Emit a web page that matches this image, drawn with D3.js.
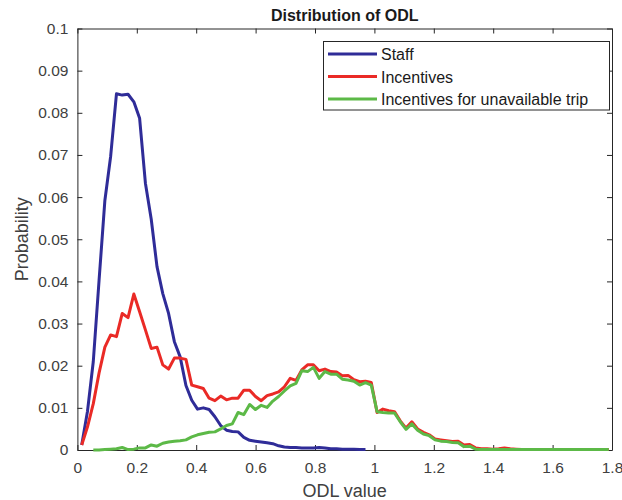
<!DOCTYPE html>
<html>
<head>
<meta charset="utf-8">
<script src="https://cdn.jsdelivr.net/npm/d3@7.9.0/dist/d3.min.js"></script>
<style>
  body { margin: 0; background: #fff; }
  svg { display: block; font-family: "Liberation Sans", Arial, Helvetica, sans-serif; }
</style>
</head>
<body>
<svg id="chart" width="622" height="500"></svg>
<script>
// bin centres of the ODL histogram
const odl = [0.0145, 0.034, 0.0535, 0.073, 0.0925, 0.112, 0.1315, 0.151, 0.1705, 0.19,
  0.2095, 0.229, 0.2485, 0.268, 0.2875, 0.307, 0.3265, 0.346, 0.3655, 0.385,
  0.4045, 0.424, 0.4435, 0.463, 0.4825, 0.502, 0.5215, 0.541, 0.5605, 0.58,
  0.5995, 0.619, 0.6385, 0.658, 0.6775, 0.697, 0.7165, 0.736, 0.7555, 0.775,
  0.7945, 0.814, 0.8335, 0.853, 0.8725, 0.892, 0.9115, 0.931, 0.9505, 0.97,
  0.9895, 1.009, 1.0285, 1.048, 1.0675, 1.087, 1.1065, 1.126, 1.1455, 1.165,
  1.1845, 1.204, 1.2235, 1.243, 1.2625, 1.282, 1.3015, 1.321, 1.3405, 1.36,
  1.3795, 1.399, 1.4185, 1.438, 1.4575, 1.477, 1.4965, 1.516, 1.5355, 1.555,
  1.5745, 1.594, 1.6135, 1.633, 1.6525, 1.672, 1.6915, 1.711, 1.7305, 1.75,
  1.7695, 1.789];

// null = bin not plotted for that series
const staff = [0.0012, 0.0092, 0.021, 0.0403, 0.0592, 0.0697, 0.0845, 0.0842, 0.0844, 0.0826,
  0.0787, 0.0633, 0.0548, 0.0435, 0.0371, 0.0324, 0.0257, 0.0221, 0.0153, 0.0118,
  0.0097, 0.0100, 0.0096, 0.0079, 0.0058, 0.0047, 0.0044, 0.0043, 0.0030, 0.0023,
  0.0021, 0.0019, 0.0017, 0.0015, 0.0010, 0.0007, 0.0006, 0.0006, 0.0005, 0.0005,
  0.0005, 0.0006, 0.0005, 0.0003, 0.0003, 0.0002, 0.0002, 0.0002, 0.0001, 0.0001];

const incentives = [0.0012, 0.0055, 0.011, 0.0183, 0.0244, 0.0273, 0.0269, 0.0324, 0.0314, 0.037,
  0.0328, 0.0285, 0.0241, 0.0244, 0.0202, 0.0192, 0.0218, 0.0218, 0.0215, 0.0154,
  0.0150, 0.0146, 0.0123, 0.0117, 0.0128, 0.0119, 0.0123, 0.0123, 0.0142, 0.0142,
  0.0127, 0.0117, 0.0129, 0.0133, 0.0138, 0.0150, 0.0170, 0.0165, 0.0190, 0.0202,
  0.0202, 0.0188, 0.0192, 0.0186, 0.0185, 0.0176, 0.0177, 0.0167, 0.0162, 0.0163,
  0.0160, 0.0089, 0.0097, 0.0093, 0.0091, 0.0069, 0.0052, 0.0067, 0.0050, 0.0042,
  0.0036, 0.0026, 0.0024, 0.0022, 0.0020, 0.0021, 0.0012, 0.0013, 0.0005, 0.0003,
  0.0003, 0.0002, 0.0003, 0.0005, 0.0003, 0.0002, 0.0001, 0.0001, 0.0001, 0.0001,
  0.0001, 0.0001, 0.0001, 0.0001, 0.0001, 0.0001, 0.0001, 0.0001, 0.0001, 0.0001,
  0.0001, 0.0001];

const unavailable = [null, null, 0, 0, 0.0001, 0.0002, 0.0003, 0.0006, 0.0001, 0.0002,
  0.0005, 0.0005, 0.0012, 0.0009, 0.0016, 0.0019, 0.0021, 0.0022, 0.0024, 0.0031,
  0.0036, 0.0039, 0.0042, 0.0043, 0.0050, 0.0058, 0.0062, 0.0089, 0.0084, 0.0108,
  0.0096, 0.0106, 0.0101, 0.0116, 0.0127, 0.0140, 0.0152, 0.0158, 0.0188, 0.0186,
  0.0196, 0.0170, 0.0186, 0.0180, 0.0180, 0.0168, 0.0166, 0.0163, 0.0154, 0.0160,
  0.0154, 0.0091, 0.0089, 0.0088, 0.0088, 0.0067, 0.0049, 0.0062, 0.0047, 0.0038,
  0.0034, 0.0024, 0.0021, 0.0020, 0.0018, 0.0017, 0.0008, 0.0009, 0.0002, 0.0001,
  0.0001, 0.0001, 0.0001, 0.0001, 0.0001, 0.0001, 0.0001, 0.0001, 0.0001, 0.0001,
  0.0001, 0.0001, 0.0001, 0.0001, 0.0001, 0.0001, 0.0001, 0.0001, 0.0001, 0.0001,
  0.0001, 0.0001];

const seriesNames = ['Staff', 'Incentives', 'Incentives for unavailable trip'];
const seriesColors = ['#2f2c98', '#ea2a26', '#5cb947'];
const xTicks = [0, 0.2, 0.4, 0.6, 0.8, 1, 1.2, 1.4, 1.6, 1.8];
const yTicks = [0, 0.01, 0.02, 0.03, 0.04, 0.05, 0.06, 0.07, 0.08, 0.09, 0.1];

const plotLeft = 77.4, plotRight = 612, plotTop = 28.5, plotBottom = 450;
const svg = d3.select('#chart');

let x = d3.scaleLinear().domain([0, 1.8]).range([plotLeft, plotRight]);
let y = d3.scaleLinear().domain([0, 0.1]).range([plotBottom, plotTop]);

const axisColor = '#262626';
const textColor = '#404040';
const fmt = (d) => d3.format('~g')(d);

// axes (MATLAB-style box with inward ticks)
svg.append('g').attr('transform', `translate(0,${plotBottom})`)
  .call(d3.axisBottom(x).tickValues(xTicks).tickFormat(fmt).tickSizeInner(-5).tickSizeOuter(0).tickPadding(12));
svg.append('g').attr('transform', `translate(${plotLeft},0)`)
  .call(d3.axisLeft(y).tickValues(yTicks).tickFormat(fmt).tickSizeInner(-5).tickSizeOuter(0).tickPadding(9));
svg.append('g').attr('transform', `translate(0,${plotTop})`)
  .call(d3.axisTop(x).tickValues(xTicks).tickFormat('').tickSizeInner(-5).tickSizeOuter(0));
svg.append('g').attr('transform', `translate(${plotRight},0)`)
  .call(d3.axisRight(y).tickValues(yTicks).tickFormat('').tickSizeInner(-5).tickSizeOuter(0));

svg.selectAll('.domain, .tick line').attr('stroke', axisColor).attr('stroke-width', 1);
svg.selectAll('.tick text').attr('fill', textColor).style('font-size', '15.5px');

// series lines
const series = [staff, incentives, unavailable];
let line = d3.line()
  .defined((d) => d != null)
  .x((d, i) => x(odl[i]))
  .y((d) => y(d));

series.forEach((vals, idx) => {
  svg.append('path')
    .attr('d', line(vals))
    .attr('fill', 'none')
    .attr('stroke', seriesColors[idx])
    .attr('stroke-width', 3)
    .attr('stroke-linejoin', 'round');
});

// title and labels
svg.append('text').attr('x', (plotLeft + plotRight) / 2).attr('y', 20.5)
  .attr('text-anchor', 'middle').attr('font-weight', 'bold')
  .style('font-size', '16px').attr('fill', '#1a1a1a')
  .text('Distribution of ODL');
svg.append('text').attr('x', (plotLeft + plotRight) / 2).attr('y', 497)
  .attr('text-anchor', 'middle').style('font-size', '18px').attr('fill', textColor)
  .text('ODL value');
svg.append('text')
  .attr('transform', `translate(28,${(plotTop + plotBottom) / 2}) rotate(-90)`)
  .attr('text-anchor', 'middle').style('font-size', '18px').attr('fill', textColor)
  .text('Probability');

// legend
let legend = svg.append('g');
legend.append('rect')
  .attr('x', 323.5).attr('y', 41.5).attr('width', 286).attr('height', 68.5)
  .attr('fill', '#fff').attr('stroke', '#262626').attr('stroke-width', 1);
seriesNames.forEach((name, idx) => {
  let ly = 54 + idx * 22.5;
  legend.append('line')
    .attr('x1', 328).attr('x2', 377).attr('y1', ly).attr('y2', ly)
    .attr('stroke', seriesColors[idx]).attr('stroke-width', 3);
  legend.append('text')
    .attr('x', 381).attr('y', ly + 6)
    .style('font-size', '16px').attr('fill', '#1a1a1a')
    .text(name);
});
</script>
</body>
</html>
